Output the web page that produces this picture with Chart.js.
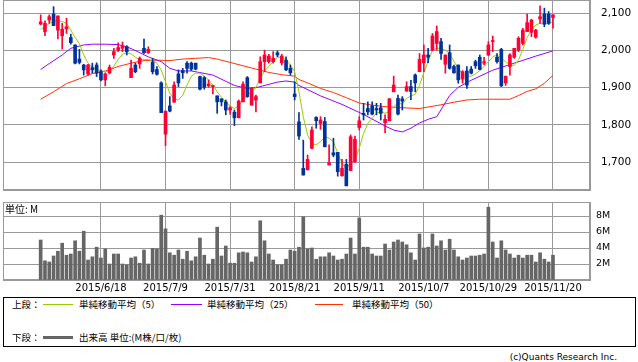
<!DOCTYPE html>
<html>
<head>
<meta charset="utf-8">
<script src="https://cdn.jsdelivr.net/npm/chart.js@4.4.0/dist/chart.umd.min.js"></script>
<style>
  body { margin: 0; width: 638px; height: 362px; background: #fff; position: relative; overflow: hidden;
         font-family: "Noto Sans CJK JP", "DejaVu Sans", sans-serif; color: #000; }
  canvas { position: absolute; left: 0; }
  #price { top: 0; }
  #vol { top: 195px; }
  .t { position: absolute; font-size: 9.5px; line-height: 12px; white-space: nowrap; }
  .ln { position: absolute; height: 0; }
  #legend { position: absolute; left: 3px; top: 297px; width: 631px; height: 48px; border: 1px solid #000; }
</style>
</head>
<body>
<canvas id="price" width="638" height="191"></canvas>
<canvas id="vol" width="638" height="100"></canvas>
<div class="t" style="left:5px; top:203px; font-size:10px;">単位: M</div>

<div id="legend"></div>
<div class="t" style="left:12px; top:298px;">上段：</div>
<div class="ln" style="left:43px; top:304px; width:30px; border-top:1px solid #99cc00;"></div>
<div class="t" style="left:79px; top:298px;">単純移動平均（5）</div>
<div class="ln" style="left:171px; top:304px; width:31px; border-top:1px solid #9900ff;"></div>
<div class="t" style="left:207px; top:298px;">単純移動平均（25）</div>
<div class="ln" style="left:315px; top:304px; width:28px; border-top:1px solid #ff3300;"></div>
<div class="t" style="left:352px; top:298px;">単純移動平均（50）</div>
<div class="t" style="left:12px; top:331px;">下段：</div>
<div class="ln" style="left:43px; top:336px; width:30px; border-top:3px solid #666;"></div>
<div class="t" style="left:79px; top:331px;">出来高 単位:(M株/口/枚)</div>
<div class="t" style="right:21px; top:351px; font-family:'DejaVu Sans'; font-size:9px;">(c)Quants Research Inc.</div>

<script>
// x axis ticks (trading day index -> date label)
const tickIdx = [14, 29, 44, 59, 74, 89, 104, 119];
const tickLabels = ['2015/6/18', '2015/7/9', '2015/7/31', '2015/8/21', '2015/9/11', '2015/10/7', '2015/10/29', '2015/11/20'];

// daily candles
const opens = [2071,2051,2082,2098,2055,2040,2058,2035,2015,1977,
  1961,1937,1954,1961,1943,1921,1940,1988,2001,2006,
  2010,1927,1961,1964,2006,1994,1969,1949,1913,1775,
  1851,1861,1937,1946,1966,1966,1966,1930,1927,1905,
  1903,1878,1870,1862,1840,1834,1819,1862,1927,1853,
  1867,1913,1970,1970,1970,1994,1967,1974,1952,1883,
  1808,1683,1679,1737,1820,1804,1809,1692,1725,1726,
  1663,1694,1677,1701,1793,1831,1844,1851,1844,1846,
  1806,1811,1889,1871,1870,1891,1903,1934,1943,1967,
  1988,2001,2019,2024,1963,1994,1957,1961,1923,1945,
  1950,1970,1982,1966,1988,2024,1982,2003,1913,1957,
  1982,2001,2019,2051,2049,2036,2085,2098,2098,2089];
const highs = [2096,2080,2096,2118,2093,2073,2087,2044,2015,2003,
  1963,1963,1966,1967,1948,1940,1961,2006,2021,2023,
  2013,1974,1966,1983,2031,2010,1979,1957,1916,1837,
  1876,1916,1948,1952,1970,1969,1966,1931,1930,1921,
  1906,1878,1870,1867,1849,1840,1867,1916,1930,1901,
  1880,1983,2001,1990,1997,1999,1990,1983,1961,1916,
  1833,1759,1719,1795,1822,1822,1820,1746,1764,1726,
  1707,1707,1773,1770,1822,1858,1862,1862,1858,1858,
  1827,1871,1931,1880,1876,1916,1920,1937,1992,2015,
  2006,2046,2066,2033,1988,2015,1961,1961,1946,1957,
  1957,1974,1988,1982,2024,2039,1992,2006,1931,1992,
  2006,2037,2060,2098,2084,2057,2120,2114,2105,2096];
const lows = [2069,2040,2073,2067,2031,2004,2046,2017,1964,1964,
  1934,1934,1939,1930,1918,1905,1937,1979,1997,1997,
  1988,1927,1940,1952,1992,1992,1937,1934,1833,1744,
  1835,1861,1903,1925,1939,1946,1948,1894,1896,1901,
  1883,1831,1851,1827,1829,1798,1819,1862,1874,1853,
  1835,1913,1943,1966,1966,1983,1961,1946,1934,1867,
  1761,1665,1679,1735,1791,1788,1741,1692,1714,1662,
  1662,1636,1677,1699,1786,1813,1827,1827,1827,1813,
  1779,1811,1889,1827,1840,1890,1868,1889,1943,1943,
  1967,1999,2001,1976,1939,1950,1939,1912,1912,1898,
  1937,1952,1948,1961,1986,1997,1966,1903,1906,1934,
  1979,1997,2015,2051,2037,2033,2073,2064,2070,2060];
const closes = [2077,2073,2091,2067,2093,2057,2064,2021,1966,1968,
  1948,1961,1948,1939,1921,1937,1955,1997,2008,2013,
  1997,1952,1943,1979,1994,2003,1943,1936,1833,1837,
  1837,1907,1913,1940,1952,1950,1950,1896,1901,1910,
  1906,1862,1862,1840,1846,1819,1864,1909,1876,1898,
  1876,1970,1988,1985,1979,1988,1985,1948,1940,1876,
  1770,1665,1707,1786,1811,1813,1741,1698,1719,1674,
  1683,1636,1768,1761,1811,1827,1835,1829,1840,1831,
  1815,1870,1907,1829,1864,1903,1890,1913,1976,1988,
  1982,2039,2051,1992,1988,1952,1940,1921,1943,1907,
  1939,1959,1949,1970,2015,2027,1970,1905,1931,1988,
  2006,2033,2055,2075,2082,2055,2091,2071,2073,2096];

// volume, millions
const volumes = [5.0,2.4,2.25,3.0,3.6,4.6,3.1,3.25,4.9,3.6,
  6.1,2.5,2.9,4.1,2.75,3.9,2.0,3.25,3.25,2.0,
  1.9,2.75,2.9,2.1,3.75,2.0,3.95,3.9,8.1,6.4,
  3.4,3.1,3.75,2.6,3.6,2.4,2.9,5.25,3.1,2.0,
  2.6,6.6,3.0,4.25,2.1,2.1,3.4,3.5,3.4,2.25,
  2.9,7.4,4.9,3.25,2.5,1.9,1.9,2.6,3.75,3.6,
  4.1,7.9,3.9,4.0,2.6,2.9,2.9,3.4,3.0,2.5,
  2.6,3.25,5.25,3.25,7.75,4.1,4.1,3.25,3.0,3.0,
  4.5,3.75,4.75,5.0,4.75,4.4,3.4,2.5,5.75,4.0,
  4.1,5.75,4.25,4.9,3.75,5.1,3.75,2.9,2.5,2.75,
  3.0,3.0,3.1,3.25,9.1,4.75,2.75,4.9,3.75,3.25,
  2.75,3.1,2.75,3.1,3.1,2.25,3.4,2.6,2.25,3.1];

// moving averages as drawn in the picture
const ma5 = [2057,2064,2073,2079,2080,2078,2073,2055,2035,2018,
  1988,1966,1955,1949,1946,1943,1946,1958,1976,1990,
  1994,1991,1982,1976,1975,1976,1973,1966,1948,1916,
  1885,1869,1867,1880,1907,1931,1939,1939,1931,1921,
  1907,1889,1874,1862,1851,1844,1851,1867,1880,1889,
  1901,1925,1946,1957,1970,1982,1982,1975,1961,1943,
  1889,1822,1773,1750,1746,1755,1768,1764,1755,1723,
  1697,1683,1697,1707,1737,1777,1804,1818,1831,1836,
  1831,1836,1849,1858,1856,1871,1878,1882,1907,1940,
  1970,2001,2006,2006,2001,1992,1970,1952,1937,1931,
  1931,1937,1946,1957,1970,1983,1988,1979,1970,1961,
  1960,1975,2003,2035,2055,2069,2073,2071,2073,2078];
const ma25Idx = [0,2,5,7,10,12,15,18,20,22,25,28,30,32,35,40,45,48,50,55,57,59,60,65,70,75,80,82,84,86,88,90,92,95,97,100,105,110,115,119];
const ma25 = [1949,1965,1988,2006,2015,2017,2017,2016,2010,2000,1983,1970,1952,1945,1945,1934,1906,1898,1900,1915,1918,1915,1906,1878,1855,1828,1797,1786,1781,1791,1805,1815,1822,1879,1901,1920,1947,1966,1985,1999];
const ma50Idx = [0,3,6,9,12,15,18,21,24,27,30,33,36,39,41,44,47,50,53,56,59,60,62,65,68,71,74,77,80,84,88,90,93,96,99,102,106,109,111,113,115,117,119];
const ma50 = [1869,1889,1911,1924,1938,1945,1957,1966,1973,1974,1973,1977,1979,1981,1977,1968,1959,1950,1941,1935,1931,1922,1913,1898,1887,1873,1859,1853,1849,1846,1844,1848,1854,1861,1867,1869,1869,1869,1879,1890,1897,1912,1933];

const upColor = '#ff0033';
const downColor = '#003399';
const gridColor = '#999';
const candleColors = closes.map((c, i) => (c >= opens[i] ? upColor : downColor));

// frame round the plot area (left and top sides are not drawn by the axes)
const frame = {
  id: 'frame',
  beforeDatasetsDraw(chart) {
    const a = chart.chartArea;
    const ctx = chart.ctx;
    ctx.save();
    ctx.strokeStyle = gridColor;
    ctx.lineWidth = 1;
    ctx.strokeRect(a.left + 0.5, a.top + 0.5, a.right - a.left - 1, a.bottom - a.top - 1);
    ctx.restore();
  }
};

// fixed axis sizes, and no extra room kept for the edge labels
const fixY = (s) => { s.width = 48; s.paddingTop = 0; s.paddingBottom = 0; };

const xScale = (showLabels) => ({
  type: 'linear',
  min: -8.75,
  max: 127.6,
  offset: false,
  afterBuildTicks: (s) => { s.ticks = tickIdx.map((v) => ({ value: v })); },
  afterFit: (s) => { s.height = showLabels ? 15 : 0; s.paddingLeft = 0; s.paddingRight = 0; },
  grid: { color: gridColor, offset: false, drawTicks: false },
  border: { color: gridColor },
  ticks: {
    display: showLabels,
    autoSkip: false,
    maxRotation: 0,
    padding: 2,
    color: '#000',
    font: { family: 'DejaVu Sans', size: 10 },
    callback: (v) => tickLabels[tickIdx.indexOf(v)] || ''
  }
});

Chart.defaults.font.family = 'DejaVu Sans';

const priceChart = new Chart(document.getElementById('price'), {
  type: 'bar',
  data: {
    datasets: [
      { type: 'line', data: ma50.map((v, k) => ({ x: ma50Idx[k], y: v })), borderColor: '#ff3300', borderWidth: 1, pointRadius: 0, order: 5 },
      { type: 'line', data: ma25.map((v, k) => ({ x: ma25Idx[k], y: v })), borderColor: '#9900ff', borderWidth: 1, pointRadius: 0, order: 4 },
      { type: 'line', data: ma5.map((v, i) => ({ x: i, y: v })), borderColor: '#99cc00', borderWidth: 1, pointRadius: 0, order: 3 },
      { data: lows.map((l, i) => ({ x: i, y: [l, highs[i]] })), backgroundColor: candleColors, barThickness: 1, grouped: false, order: 2 },
      { data: opens.map((o, i) => ({ x: i, y: [o, closes[i]] })), backgroundColor: candleColors, barThickness: 3, minBarLength: 1, grouped: false, order: 1 }
    ]
  },
  options: {
    responsive: false,
    animation: false,
    layout: { autoPadding: false, padding: { left: 3, right: 0, top: 0, bottom: 1 } },
    plugins: { legend: { display: false }, tooltip: { enabled: false } },
    scales: {
      x: xScale(false),
      y: {
        position: 'right',
        min: 1624.8,
        max: 2135.9,
        afterFit: fixY,
        grid: { color: gridColor, drawTicks: false },
        border: { color: gridColor },
        ticks: {
          stepSize: 100,
          includeBounds: false,
          padding: 11,
          color: '#000',
          font: { size: 10.5 },
          callback: (v) => v.toLocaleString('en-US')
        }
      }
    }
  },
  plugins: [frame]
});

const volChart = new Chart(document.getElementById('vol'), {
  type: 'bar',
  data: {
    datasets: [
      { data: volumes.map((v, i) => ({ x: i, y: v })), backgroundColor: '#666', barThickness: 3, grouped: false }
    ]
  },
  options: {
    responsive: false,
    animation: false,
    layout: { autoPadding: false, padding: { left: 3, right: 0, top: 7, bottom: 0 } },
    plugins: { legend: { display: false }, tooltip: { enabled: false } },
    scales: {
      x: xScale(true),
      y: {
        position: 'right',
        min: 0,
        max: 9.75,
        afterFit: fixY,
        grid: { color: gridColor, drawTicks: false },
        border: { color: gridColor },
        ticks: {
          stepSize: 2,
          includeBounds: false,
          padding: 6,
          color: '#000',
          font: { size: 9.5 },
          callback: (v) => (v ? v + 'M' : '')
        }
      }
    }
  },
  plugins: [frame]
});
</script>
</body>
</html>
